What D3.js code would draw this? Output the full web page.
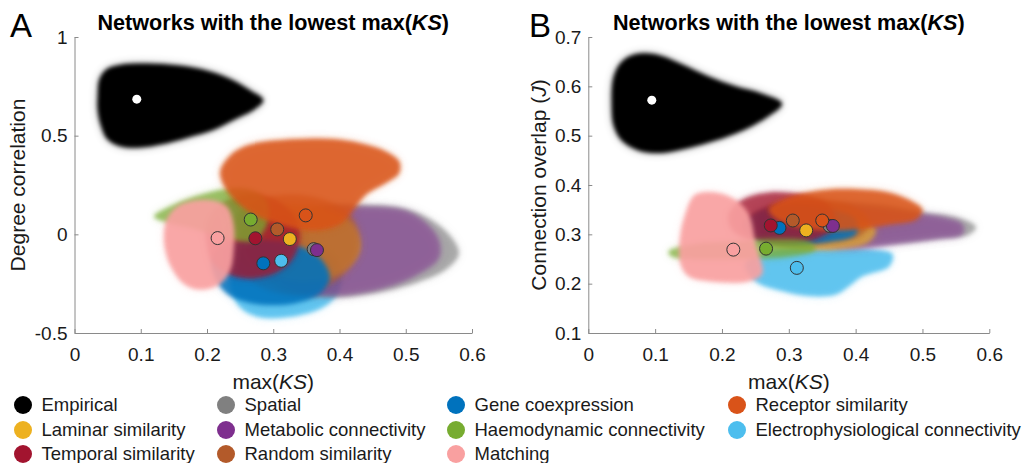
<!DOCTYPE html>
<html>
<head>
<meta charset="utf-8">
<script src="https://cdn.jsdelivr.net/npm/d3@7"></script>
<style>
  html, body { margin: 0; padding: 0; background: #fff; }
  svg { display: block; font-family: "Liberation Sans", Arial, sans-serif; }
</style>
</head>
<body>
<svg id="chart" width="1032" height="463"></svg>
<script>
// ---- series ----
const seriesNames = [
  "Empirical", "Laminar similarity", "Temporal similarity",
  "Spatial", "Metabolic connectivity", "Random similarity",
  "Gene coexpression", "Haemodynamic connectivity", "Matching",
  "Receptor similarity", "Electrophysiological connectivity"
];
const seriesColors = [
  "#000000", "#EDB120", "#A2142F",
  "#808080", "#7E2F8E", "#B35A2A",
  "#0072BD", "#77AC30", "#F9A0A0",
  "#D95319", "#4DBEEE"
];
// painting order of the point clouds (indices into seriesNames)
const drawOrder = [0, 10, 3, 4, 1, 5, 6, 2, 7, 9, 8];
// cloud density (opacity) per series
const cloudAlpha = [1, 0.6, 0.75, 0.6, 0.45, 0.55, 0.85, 0.7, 0.9, 0.85, 0.85];

// ---- axis ticks ----
const xTicks = [0, 0.1, 0.2, 0.3, 0.4, 0.5, 0.6];
const yTicksA = [-0.5, 0, 0.5, 1];
const yTicksB = [0.1, 0.2, 0.3, 0.4, 0.5, 0.6, 0.7];

// ---- mean of each model (max(KS), measure) ----
const meanKS_A  = [0.094, 0.325, 0.273, 0.361, 0.366, 0.306, 0.285, 0.266, 0.216, 0.349, 0.312];
const meanDeg_A = [0.685, -0.024, -0.020, -0.075, -0.080, 0.025, -0.147, 0.075, -0.019, 0.096, -0.134];
const meanKS_B  = [0.095, 0.326, 0.273, 0.361, 0.366, 0.306, 0.286, 0.266, 0.217, 0.350, 0.312];
const meanJ_B   = [0.572, 0.308, 0.318, 0.317, 0.317, 0.328, 0.313, 0.271, 0.269, 0.328, 0.232];

// ---- extent of each point cloud, panel A (max(KS), degree correlation) ----
const cloudsA = [
  [[0.035,0.70],[0.038,0.79],[0.05,0.84],[0.07,0.86],[0.12,0.865],[0.17,0.85],[0.21,0.82],[0.24,0.78],[0.265,0.73],[0.285,0.68],[0.27,0.63],[0.24,0.58],[0.21,0.53],[0.17,0.49],[0.13,0.455],[0.10,0.44],[0.07,0.445],[0.05,0.48],[0.04,0.55],[0.035,0.63]],
  [[0.25,0.0],[0.27,0.10],[0.32,0.15],[0.38,0.13],[0.42,0.05],[0.43,-0.08],[0.40,-0.2],[0.34,-0.24],[0.28,-0.18],[0.255,-0.08]],
  [[0.20,0.05],[0.22,0.15],[0.26,0.20],[0.30,0.18],[0.33,0.10],[0.34,0.0],[0.33,-0.12],[0.30,-0.2],[0.25,-0.22],[0.21,-0.15],[0.20,-0.05]],
  [[0.27,-0.05],[0.30,0.08],[0.36,0.14],[0.44,0.15],[0.50,0.13],[0.54,0.07],[0.57,-0.02],[0.58,-0.10],[0.56,-0.18],[0.52,-0.24],[0.45,-0.30],[0.38,-0.32],[0.31,-0.28],[0.28,-0.18]],
  [[0.28,-0.05],[0.31,0.08],[0.37,0.13],[0.44,0.14],[0.50,0.12],[0.53,0.06],[0.55,-0.03],[0.55,-0.12],[0.52,-0.2],[0.47,-0.27],[0.40,-0.31],[0.33,-0.28],[0.29,-0.18]],
  [[0.23,0.02],[0.26,0.14],[0.32,0.20],[0.38,0.17],[0.42,0.08],[0.43,-0.08],[0.40,-0.22],[0.35,-0.30],[0.29,-0.28],[0.25,-0.18],[0.23,-0.08]],
  [[0.21,-0.10],[0.24,-0.04],[0.29,-0.03],[0.33,-0.05],[0.37,-0.12],[0.385,-0.22],[0.37,-0.30],[0.33,-0.35],[0.27,-0.35],[0.23,-0.30],[0.21,-0.20]],
  [[0.12,0.09],[0.15,0.15],[0.19,0.20],[0.23,0.23],[0.27,0.22],[0.29,0.17],[0.29,0.05],[0.27,-0.03],[0.23,-0.02],[0.18,0.03],[0.14,0.06]],
  [[0.135,0.0],[0.14,0.08],[0.155,0.14],[0.18,0.17],[0.21,0.17],[0.23,0.14],[0.24,0.05],[0.24,-0.08],[0.235,-0.18],[0.22,-0.25],[0.19,-0.28],[0.165,-0.25],[0.145,-0.16],[0.137,-0.08]],
  [[0.22,0.32],[0.235,0.40],[0.26,0.45],[0.30,0.475],[0.35,0.485],[0.40,0.48],[0.44,0.455],[0.47,0.42],[0.49,0.37],[0.49,0.31],[0.47,0.26],[0.44,0.20],[0.42,0.12],[0.40,0.05],[0.36,0.02],[0.31,0.05],[0.27,0.10],[0.24,0.18],[0.225,0.25]],
  [[0.24,-0.10],[0.28,-0.02],[0.33,-0.01],[0.37,-0.06],[0.40,-0.15],[0.40,-0.28],[0.38,-0.36],[0.34,-0.41],[0.28,-0.42],[0.25,-0.37],[0.235,-0.25]]
];

// ---- extent of each point cloud, panel B (max(KS), connection overlap) ----
const cloudsB = [
  [[0.035,0.56],[0.038,0.62],[0.05,0.65],[0.07,0.665],[0.10,0.665],[0.14,0.645],[0.18,0.62],[0.22,0.60],[0.26,0.585],[0.29,0.565],[0.27,0.54],[0.23,0.51],[0.19,0.49],[0.15,0.475],[0.11,0.465],[0.075,0.47],[0.05,0.49],[0.038,0.52]],
  [[0.26,0.30],[0.29,0.33],[0.34,0.34],[0.40,0.33],[0.43,0.31],[0.42,0.285],[0.37,0.27],[0.31,0.27],[0.27,0.28]],
  [[0.21,0.34],[0.23,0.37],[0.27,0.385],[0.32,0.38],[0.36,0.36],[0.37,0.32],[0.34,0.29],[0.29,0.28],[0.24,0.29],[0.215,0.31]],
  [[0.25,0.32],[0.29,0.355],[0.36,0.365],[0.44,0.36],[0.50,0.345],[0.55,0.335],[0.58,0.315],[0.57,0.30],[0.52,0.29],[0.45,0.28],[0.38,0.275],[0.30,0.28],[0.26,0.295]],
  [[0.25,0.32],[0.28,0.35],[0.34,0.36],[0.42,0.355],[0.48,0.345],[0.53,0.335],[0.56,0.32],[0.56,0.30],[0.52,0.29],[0.46,0.28],[0.40,0.27],[0.33,0.275],[0.27,0.29]],
  [[0.24,0.33],[0.28,0.36],[0.33,0.37],[0.39,0.36],[0.42,0.33],[0.41,0.30],[0.36,0.285],[0.30,0.285],[0.25,0.30]],
  [[0.23,0.32],[0.26,0.35],[0.31,0.36],[0.36,0.35],[0.40,0.33],[0.40,0.30],[0.36,0.285],[0.30,0.28],[0.25,0.29]],
  [[0.12,0.265],[0.16,0.28],[0.22,0.285],[0.28,0.29],[0.33,0.285],[0.34,0.27],[0.30,0.255],[0.22,0.25],[0.16,0.25],[0.125,0.255]],
  [[0.137,0.29],[0.145,0.34],[0.16,0.38],[0.19,0.385],[0.22,0.37],[0.24,0.34],[0.25,0.28],[0.26,0.22],[0.24,0.205],[0.18,0.205],[0.15,0.215],[0.138,0.24]],
  [[0.27,0.35],[0.30,0.375],[0.35,0.39],[0.40,0.392],[0.45,0.385],[0.48,0.37],[0.50,0.35],[0.49,0.33],[0.45,0.32],[0.40,0.31],[0.34,0.31],[0.29,0.325]],
  [[0.235,0.24],[0.26,0.262],[0.30,0.272],[0.36,0.272],[0.42,0.27],[0.455,0.26],[0.45,0.235],[0.41,0.215],[0.39,0.195],[0.37,0.178],[0.33,0.175],[0.29,0.185],[0.25,0.205]]
];

// ---- layout ----
const svg = d3.select("#chart");
const FONT = '"Liberation Sans", Arial, sans-serif';
const AXIS_COLOR = "#8a8a8a";
const TEXT_COLOR = "#1a1a1a";

const defs = svg.append("defs");
defs.append("filter").attr("id", "soft").attr("x", "-20%").attr("y", "-20%").attr("width", "140%").attr("height", "140%")
  .append("feGaussianBlur").attr("stdDeviation", 2.2);
defs.append("filter").attr("id", "haze").attr("x", "-30%").attr("y", "-30%").attr("width", "160%").attr("height", "160%")
  .append("feGaussianBlur").attr("stdDeviation", 5);

const panels = [
  { letter: "A", left: 74.5, right: 472, top: 37, bottom: 333, yDomain: [-0.5, 1], yTicks: yTicksA,
    yLabel: [{t: "Degree correlation"}], yLabelX: 25,
    clouds: cloudsA, mx: meanKS_A, my: meanDeg_A, letterX: 10 },
  { letter: "B", left: 588.3, right: 989.3, top: 37, bottom: 333, yDomain: [0.1, 0.7], yTicks: yTicksB,
    yLabel: [{t: "Connection overlap ("}, {t: "J", italic: true}, {t: ")"}], yLabelX: 545.5,
    clouds: cloudsB, mx: meanKS_B, my: meanJ_B, letterX: 529 }
];

panels.forEach(p => {
  const x = d3.scaleLinear().domain([0, 0.6]).range([p.left, p.right]);
  const y = d3.scaleLinear().domain(p.yDomain).range([p.bottom, p.top]);
  const g = svg.append("g");

  // point clouds: soft halo of sparse points, then the dense core
  const outline = d3.line().x(d => x(d[0])).y(d => y(d[1])).curve(d3.curveCatmullRomClosed.alpha(0.5));
  const cloudLayer = g.append("g");
  drawOrder.forEach(i => {
    const pts = p.clouds[i];
    const col = seriesColors[i];
    cloudLayer.append("path").attr("d", outline(pts)).attr("fill", col)
      .attr("opacity", i === 0 ? 0.3 : 0.22).attr("filter", "url(#haze)");
    cloudLayer.append("path").attr("d", outline(pts)).attr("fill", col)
      .attr("opacity", cloudAlpha[i]).attr("filter", "url(#soft)");
  });

  // axes
  const xAxis = d3.axisBottom(x).tickValues(xTicks).tickFormat(d => String(d)).tickSizeInner(-4).tickSizeOuter(0).tickPadding(14.5);
  const yAxis = d3.axisLeft(y).tickValues(p.yTicks).tickFormat(d => String(d)).tickSizeInner(-4).tickSizeOuter(0).tickPadding(7);
  const gx = g.append("g").attr("transform", `translate(0,${p.bottom})`).call(xAxis);
  const gy = g.append("g").attr("transform", `translate(${p.left},0)`).call(yAxis);
  [gx, gy].forEach(a => {
    a.select(".domain").attr("stroke", AXIS_COLOR).attr("stroke-width", 1);
    a.selectAll(".tick line").attr("stroke", AXIS_COLOR);
    a.selectAll(".tick text").attr("fill", TEXT_COLOR).style("font-family", FONT).style("font-size", "19px");
  });

  // means
  const meanLayer = g.append("g");
  drawOrder.forEach(i => {
    if (i === 0) {
      meanLayer.append("circle").attr("cx", x(p.mx[i])).attr("cy", y(p.my[i])).attr("r", 4.5).attr("fill", "#fff");
    } else {
      meanLayer.append("circle").attr("cx", x(p.mx[i])).attr("cy", y(p.my[i])).attr("r", 6.5)
        .attr("fill", seriesColors[i]).attr("stroke", "#333").attr("stroke-width", 1);
    }
  });

  // title
  const cx = (p.left + p.right) / 2;
  const title = g.append("text").attr("x", cx).attr("y", 29.5).attr("text-anchor", "middle")
    .style("font-family", FONT).style("font-size", "21.6px").style("font-weight", "bold").attr("fill", "#000");
  title.append("tspan").text("Networks with the lowest max(");
  title.append("tspan").style("font-style", "italic").text("KS");
  title.append("tspan").text(")");

  // x label
  const xl = g.append("text").attr("x", cx).attr("y", 389).attr("text-anchor", "middle")
    .style("font-family", FONT).style("font-size", "21px").attr("fill", TEXT_COLOR);
  xl.append("tspan").text("max(");
  xl.append("tspan").style("font-style", "italic").text("KS");
  xl.append("tspan").text(")");

  // y label
  const yl = g.append("text").attr("transform", `translate(${p.yLabelX},${(p.top + p.bottom) / 2}) rotate(-90)`)
    .attr("text-anchor", "middle").style("font-family", FONT).style("font-size", "21px").attr("fill", TEXT_COLOR);
  p.yLabel.forEach(s => {
    const t = yl.append("tspan").text(s.t);
    if (s.italic) t.style("font-style", "italic");
  });

  // panel letter
  g.append("text").attr("x", p.letterX).attr("y", 37).style("font-family", FONT).style("font-size", "33px")
    .attr("fill", "#000").text(p.letter);
});

// ---- legend ----
const legendCols = [23, 226, 456, 737];
const legendRows = [405, 430, 454];
const legend = svg.append("g");
seriesNames.forEach((name, i) => {
  const col = Math.floor(i / 3), row = i % 3;
  const lx = legendCols[col], ly = legendRows[row];
  legend.append("circle").attr("cx", lx).attr("cy", ly).attr("r", 9).attr("fill", seriesColors[i]);
  legend.append("text").attr("x", lx + 18.5).attr("y", ly).attr("dy", "0.35em")
    .style("font-family", FONT).style("font-size", "18.5px").attr("fill", TEXT_COLOR).text(name);
});
</script>
</body>
</html>
